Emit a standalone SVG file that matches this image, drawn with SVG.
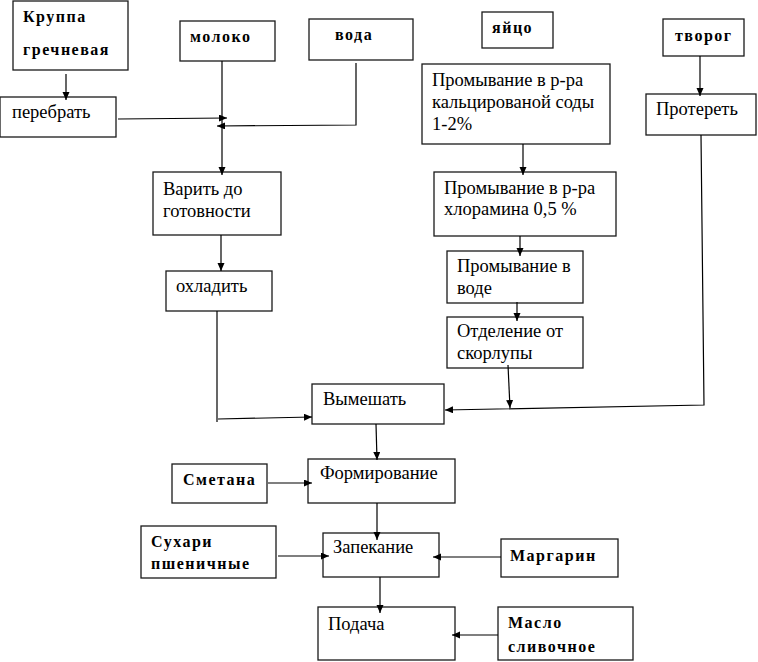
<svg xmlns="http://www.w3.org/2000/svg" width="758" height="662" viewBox="0 0 758 662">
<style>
.box{fill:#fff;stroke:#1a1a1a;stroke-width:1.3}
.t{font-family:"Liberation Serif","Times New Roman",serif;font-size:18.5px;fill:#000}
.b{font-family:"Liberation Serif","Times New Roman",serif;font-size:16px;font-weight:bold;letter-spacing:1.5px;fill:#000}
.c{fill:none;stroke:#000;stroke-width:1.2}
</style>
<defs>
<marker id="ah" markerWidth="9" markerHeight="8" refX="8" refY="3.5" orient="auto" markerUnits="userSpaceOnUse">
<path d="M0,0 L8,3.5 L0,7 z" fill="#000"/>
</marker>
</defs>
<rect width="758" height="662" fill="#fff"/>
<g id="n-krupa"><rect class="box" x="13" y="1" width="115" height="69"/><text class="b" x="23" y="22">Круппа</text><text class="b" x="23" y="55">гречневая</text></g>
<g id="n-moloko"><rect class="box" x="180" y="21" width="95" height="40"/><text class="b" x="190" y="42">молоко</text></g>
<g id="n-voda"><rect class="box" x="309" y="19" width="104" height="41"/><text class="b" x="335" y="40">вода</text></g>
<g id="n-yaico"><rect class="box" x="482" y="12" width="71" height="36"/><text class="b" x="492" y="33">яйцо</text></g>
<g id="n-tvorog"><rect class="box" x="663" y="19" width="81" height="37"/><text class="b" x="675" y="41">творог</text></g>
<g id="n-perebrat"><rect class="box" x="0" y="97" width="116" height="40"/><text class="t" x="12" y="118">перебрать</text></g>
<g id="n-prom1"><rect class="box" x="422" y="64" width="188" height="80"/><text class="t" x="432" y="86">Промывание в р-ра</text><text class="t" x="432" y="108">кальцированой соды</text><text class="t" x="432" y="130">1-2%</text></g>
<g id="n-proteret"><rect class="box" x="646" y="94" width="110" height="41"/><text class="t" x="656" y="115">Протереть</text></g>
<g id="n-varit"><rect class="box" x="153" y="172" width="128" height="63"/><text class="t" x="163" y="195">Варить до</text><text class="t" x="163" y="217">готовности</text></g>
<g id="n-prom2"><rect class="box" x="434" y="172" width="182" height="64"/><text class="t" x="444" y="194">Промывание в р-ра</text><text class="t" x="444" y="215">хлорамина 0,5 %</text></g>
<g id="n-prom3"><rect class="box" x="447" y="251" width="136" height="52"/><text class="t" x="457" y="272">Промывание в</text><text class="t" x="457" y="294">воде</text></g>
<g id="n-ohladit"><rect class="box" x="166" y="271" width="106" height="40"/><text class="t" x="176" y="292">охладить</text></g>
<g id="n-otdel"><rect class="box" x="447" y="317" width="136" height="51"/><text class="t" x="457" y="337">Отделение от</text><text class="t" x="457" y="359">скорлупы</text></g>
<g id="n-vymeshat"><rect class="box" x="312" y="384" width="132" height="40"/><text class="t" x="323" y="405">Вымешать</text></g>
<g id="n-smetana"><rect class="box" x="172" y="464" width="95" height="39"/><text class="b" x="183" y="485">Сметана</text></g>
<g id="n-form"><rect class="box" x="308" y="459" width="147" height="44"/><text class="t" x="320" y="479">Формирование</text></g>
<g id="n-suhari"><rect class="box" x="141" y="526" width="135" height="52"/><text class="b" x="151" y="547">Сухари</text><text class="b" x="151" y="569">пшеничные</text></g>
<g id="n-zapek"><rect class="box" x="323" y="533" width="116" height="44"/><text class="t" x="333" y="553">Запекание</text></g>
<g id="n-margarin"><rect class="box" x="501" y="539" width="117" height="38"/><text class="b" x="510" y="561">Маргарин</text></g>
<g id="n-podacha"><rect class="box" x="318" y="607" width="137" height="53"/><text class="t" x="328" y="630">Подача</text></g>
<g id="n-maslo"><rect class="box" x="498" y="607" width="135" height="53"/><text class="b" x="508" y="628">Масло</text><text class="b" x="508" y="652">сливочное</text></g>
<g id="connectors">
<line class="c" x1="66" y1="74" x2="66" y2="100" marker-end="url(#ah)"/>
<line class="c" x1="118" y1="119" x2="227" y2="118" marker-end="url(#ah)"/>
<line class="c" x1="222" y1="61" x2="222" y2="175" marker-end="url(#ah)"/>
<polyline class="c" points="356,63 356,125 217,126" marker-end="url(#ah)"/>
<line class="c" x1="221" y1="235" x2="221" y2="271" marker-end="url(#ah)"/>
<line class="c" x1="217" y1="311" x2="217" y2="422"/>
<line class="c" x1="218" y1="419" x2="312" y2="417" marker-end="url(#ah)"/>
<line class="c" x1="523" y1="144" x2="523" y2="175" marker-end="url(#ah)"/>
<line class="c" x1="520" y1="236" x2="520" y2="256" marker-end="url(#ah)"/>
<line class="c" x1="517" y1="302" x2="517" y2="321" marker-end="url(#ah)"/>
<line class="c" x1="508" y1="365" x2="510" y2="408" marker-end="url(#ah)"/>
<line class="c" x1="700" y1="56" x2="700" y2="96" marker-end="url(#ah)"/>
<polyline class="c" points="701,135 704,405 445,410" marker-end="url(#ah)"/>
<line class="c" x1="376" y1="424" x2="377" y2="460" marker-end="url(#ah)"/>
<line class="c" x1="268" y1="483" x2="312" y2="483" marker-end="url(#ah)"/>
<line class="c" x1="377" y1="503" x2="377" y2="540" marker-end="url(#ah)"/>
<line class="c" x1="278" y1="556" x2="329" y2="556" marker-end="url(#ah)"/>
<line class="c" x1="501" y1="557" x2="433" y2="557" marker-end="url(#ah)"/>
<line class="c" x1="380" y1="577" x2="380" y2="613" marker-end="url(#ah)"/>
<line class="c" x1="498" y1="635" x2="452" y2="635" marker-end="url(#ah)"/>
</g>
</svg>
